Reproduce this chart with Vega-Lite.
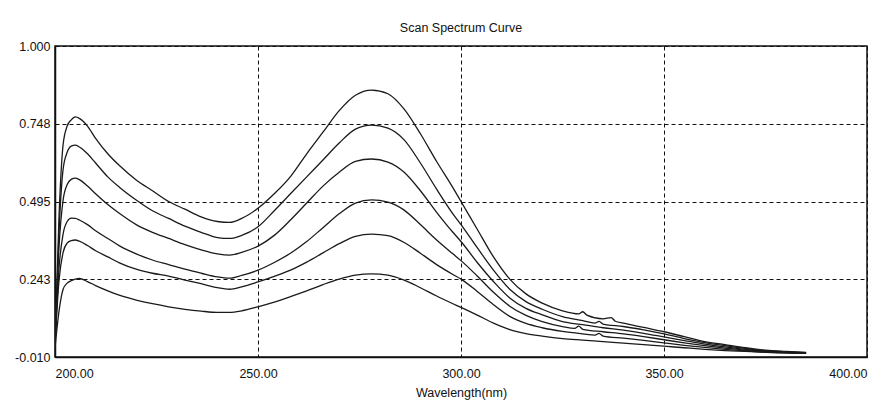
{
  "$schema": "https://vega.github.io/schema/vega-lite/v6.json",
  "autosize": {"type": "none"},
  "width": 812,
  "height": 311,
  "padding": {"left": 55, "top": 46, "right": 21, "bottom": 51},
  "background": "white",
  "title": {"text": "Scan Spectrum Curve", "font": "Liberation Sans, sans-serif", "fontSize": 12.5, "fontWeight": "normal", "color": "#111", "offset": 6},
  "config": {
    "view": {"stroke": "#111", "strokeWidth": 1.5},
    "axis": {"labelFont": "Liberation Sans, sans-serif", "labelFontSize": 12.5, "labelColor": "#111", "titleFont": "Liberation Sans, sans-serif", "titleFontSize": 12.5, "titleFontWeight": "normal", "titleColor": "#111", "grid": true, "gridColor": "#111", "gridDash": [4, 3], "gridWidth": 1, "gridOpacity": 1, "tickSize": 0, "domainColor": "#111", "domainWidth": 1.5}
  },
  "data": {"values": [
{"s":1,"w":200,"a":0.03},{"s":1,"w":201,"a":0.45},{"s":1,"w":202,"a":0.68},{"s":1,"w":203,"a":0.74},{"s":1,"w":204,"a":0.76},{"s":1,"w":205,"a":0.77},{"s":1,"w":206,"a":0.765},{"s":1,"w":208,"a":0.74},{"s":1,"w":210,"a":0.70},{"s":1,"w":213,"a":0.65},{"s":1,"w":216,"a":0.61},{"s":1,"w":220,"a":0.565},{"s":1,"w":224,"a":0.53},{"s":1,"w":228,"a":0.495},{"s":1,"w":232,"a":0.47},{"s":1,"w":236,"a":0.445},{"s":1,"w":240,"a":0.43},{"s":1,"w":243,"a":0.427},{"s":1,"w":246,"a":0.44},{"s":1,"w":250,"a":0.473},{"s":1,"w":254,"a":0.52},{"s":1,"w":258,"a":0.576},{"s":1,"w":262,"a":0.65},{"s":1,"w":266,"a":0.72},{"s":1,"w":270,"a":0.79},{"s":1,"w":274,"a":0.84},{"s":1,"w":278,"a":0.857},{"s":1,"w":282,"a":0.845},{"s":1,"w":286,"a":0.795},{"s":1,"w":290,"a":0.715},{"s":1,"w":294,"a":0.625},{"s":1,"w":298,"a":0.54},{"s":1,"w":300,"a":0.495},{"s":1,"w":304,"a":0.405},{"s":1,"w":308,"a":0.315},{"s":1,"w":312,"a":0.243},{"s":1,"w":316,"a":0.195},{"s":1,"w":320,"a":0.165},{"s":1,"w":325,"a":0.14},{"s":1,"w":329,"a":0.13},{"s":1,"w":330,"a":0.137},{"s":1,"w":331,"a":0.126},{"s":1,"w":335,"a":0.114},{"s":1,"w":337,"a":0.118},{"s":1,"w":338,"a":0.106},{"s":1,"w":340,"a":0.1},{"s":1,"w":345,"a":0.086},{"s":1,"w":350,"a":0.072},{"s":1,"w":355,"a":0.056},{"s":1,"w":360,"a":0.04},{"s":1,"w":365,"a":0.03},{"s":1,"w":370,"a":0.02},{"s":1,"w":375,"a":0.012},{"s":1,"w":380,"a":0.008},{"s":1,"w":385,"a":0.005},
{"s":2,"w":200,"a":0.03},{"s":2,"w":201,"a":0.40},{"s":2,"w":202,"a":0.60},{"s":2,"w":203,"a":0.655},{"s":2,"w":204,"a":0.675},{"s":2,"w":205,"a":0.678},{"s":2,"w":206,"a":0.672},{"s":2,"w":208,"a":0.65},{"s":2,"w":210,"a":0.62},{"s":2,"w":213,"a":0.575},{"s":2,"w":216,"a":0.54},{"s":2,"w":220,"a":0.50},{"s":2,"w":224,"a":0.465},{"s":2,"w":228,"a":0.44},{"s":2,"w":232,"a":0.415},{"s":2,"w":236,"a":0.395},{"s":2,"w":240,"a":0.378},{"s":2,"w":243,"a":0.375},{"s":2,"w":246,"a":0.385},{"s":2,"w":250,"a":0.413},{"s":2,"w":254,"a":0.465},{"s":2,"w":258,"a":0.52},{"s":2,"w":262,"a":0.575},{"s":2,"w":266,"a":0.63},{"s":2,"w":270,"a":0.685},{"s":2,"w":274,"a":0.73},{"s":2,"w":278,"a":0.743},{"s":2,"w":282,"a":0.733},{"s":2,"w":286,"a":0.695},{"s":2,"w":290,"a":0.62},{"s":2,"w":294,"a":0.535},{"s":2,"w":298,"a":0.455},{"s":2,"w":300,"a":0.42},{"s":2,"w":304,"a":0.345},{"s":2,"w":308,"a":0.272},{"s":2,"w":312,"a":0.21},{"s":2,"w":316,"a":0.17},{"s":2,"w":320,"a":0.145},{"s":2,"w":325,"a":0.121},{"s":2,"w":330,"a":0.108},{"s":2,"w":333,"a":0.1},{"s":2,"w":334,"a":0.106},{"s":2,"w":335,"a":0.097},{"s":2,"w":340,"a":0.089},{"s":2,"w":345,"a":0.078},{"s":2,"w":350,"a":0.065},{"s":2,"w":355,"a":0.05},{"s":2,"w":360,"a":0.037},{"s":2,"w":365,"a":0.027},{"s":2,"w":370,"a":0.018},{"s":2,"w":375,"a":0.011},{"s":2,"w":380,"a":0.007},{"s":2,"w":385,"a":0.004},
{"s":3,"w":200,"a":0.03},{"s":3,"w":201,"a":0.35},{"s":3,"w":202,"a":0.50},{"s":3,"w":203,"a":0.55},{"s":3,"w":204,"a":0.567},{"s":3,"w":205,"a":0.571},{"s":3,"w":206,"a":0.566},{"s":3,"w":208,"a":0.545},{"s":3,"w":210,"a":0.52},{"s":3,"w":213,"a":0.485},{"s":3,"w":216,"a":0.455},{"s":3,"w":220,"a":0.42},{"s":3,"w":224,"a":0.395},{"s":3,"w":228,"a":0.375},{"s":3,"w":232,"a":0.355},{"s":3,"w":236,"a":0.338},{"s":3,"w":240,"a":0.325},{"s":3,"w":243,"a":0.321},{"s":3,"w":246,"a":0.33},{"s":3,"w":250,"a":0.35},{"s":3,"w":254,"a":0.385},{"s":3,"w":258,"a":0.435},{"s":3,"w":262,"a":0.49},{"s":3,"w":266,"a":0.545},{"s":3,"w":270,"a":0.59},{"s":3,"w":274,"a":0.625},{"s":3,"w":278,"a":0.633},{"s":3,"w":282,"a":0.623},{"s":3,"w":286,"a":0.59},{"s":3,"w":290,"a":0.53},{"s":3,"w":294,"a":0.46},{"s":3,"w":298,"a":0.395},{"s":3,"w":300,"a":0.365},{"s":3,"w":304,"a":0.297},{"s":3,"w":308,"a":0.235},{"s":3,"w":312,"a":0.182},{"s":3,"w":316,"a":0.148},{"s":3,"w":320,"a":0.127},{"s":3,"w":325,"a":0.105},{"s":3,"w":330,"a":0.095},{"s":3,"w":335,"a":0.085},{"s":3,"w":340,"a":0.077},{"s":3,"w":345,"a":0.067},{"s":3,"w":350,"a":0.055},{"s":3,"w":355,"a":0.043},{"s":3,"w":360,"a":0.032},{"s":3,"w":365,"a":0.023},{"s":3,"w":370,"a":0.015},{"s":3,"w":375,"a":0.009},{"s":3,"w":380,"a":0.006},{"s":3,"w":385,"a":0.003},
{"s":4,"w":200,"a":0.03},{"s":4,"w":201,"a":0.28},{"s":4,"w":202,"a":0.39},{"s":4,"w":203,"a":0.43},{"s":4,"w":204,"a":0.441},{"s":4,"w":205,"a":0.44},{"s":4,"w":206,"a":0.435},{"s":4,"w":208,"a":0.42},{"s":4,"w":210,"a":0.40},{"s":4,"w":213,"a":0.375},{"s":4,"w":216,"a":0.35},{"s":4,"w":220,"a":0.325},{"s":4,"w":224,"a":0.305},{"s":4,"w":228,"a":0.29},{"s":4,"w":232,"a":0.275},{"s":4,"w":236,"a":0.262},{"s":4,"w":240,"a":0.25},{"s":4,"w":243,"a":0.246},{"s":4,"w":246,"a":0.255},{"s":4,"w":250,"a":0.272},{"s":4,"w":254,"a":0.297},{"s":4,"w":258,"a":0.327},{"s":4,"w":262,"a":0.365},{"s":4,"w":266,"a":0.41},{"s":4,"w":270,"a":0.455},{"s":4,"w":274,"a":0.49},{"s":4,"w":278,"a":0.50},{"s":4,"w":282,"a":0.493},{"s":4,"w":286,"a":0.467},{"s":4,"w":290,"a":0.42},{"s":4,"w":294,"a":0.37},{"s":4,"w":298,"a":0.325},{"s":4,"w":300,"a":0.303},{"s":4,"w":304,"a":0.253},{"s":4,"w":308,"a":0.20},{"s":4,"w":312,"a":0.155},{"s":4,"w":316,"a":0.125},{"s":4,"w":320,"a":0.105},{"s":4,"w":325,"a":0.089},{"s":4,"w":328,"a":0.083},{"s":4,"w":329,"a":0.09},{"s":4,"w":330,"a":0.08},{"s":4,"w":335,"a":0.072},{"s":4,"w":340,"a":0.065},{"s":4,"w":345,"a":0.056},{"s":4,"w":350,"a":0.046},{"s":4,"w":355,"a":0.036},{"s":4,"w":360,"a":0.027},{"s":4,"w":365,"a":0.019},{"s":4,"w":370,"a":0.012},{"s":4,"w":375,"a":0.008},{"s":4,"w":380,"a":0.005},{"s":4,"w":385,"a":0.003},
{"s":5,"w":200,"a":0.03},{"s":5,"w":201,"a":0.24},{"s":5,"w":202,"a":0.33},{"s":5,"w":203,"a":0.36},{"s":5,"w":204,"a":0.368},{"s":5,"w":205,"a":0.37},{"s":5,"w":206,"a":0.366},{"s":5,"w":208,"a":0.352},{"s":5,"w":210,"a":0.335},{"s":5,"w":213,"a":0.315},{"s":5,"w":216,"a":0.295},{"s":5,"w":220,"a":0.275},{"s":5,"w":224,"a":0.262},{"s":5,"w":228,"a":0.253},{"s":5,"w":232,"a":0.24},{"s":5,"w":236,"a":0.228},{"s":5,"w":240,"a":0.215},{"s":5,"w":243,"a":0.21},{"s":5,"w":246,"a":0.218},{"s":5,"w":250,"a":0.234},{"s":5,"w":254,"a":0.252},{"s":5,"w":258,"a":0.272},{"s":5,"w":262,"a":0.298},{"s":5,"w":266,"a":0.328},{"s":5,"w":270,"a":0.358},{"s":5,"w":274,"a":0.382},{"s":5,"w":278,"a":0.389},{"s":5,"w":282,"a":0.384},{"s":5,"w":286,"a":0.362},{"s":5,"w":290,"a":0.327},{"s":5,"w":294,"a":0.29},{"s":5,"w":298,"a":0.258},{"s":5,"w":300,"a":0.243},{"s":5,"w":304,"a":0.203},{"s":5,"w":308,"a":0.16},{"s":5,"w":312,"a":0.122},{"s":5,"w":316,"a":0.099},{"s":5,"w":320,"a":0.085},{"s":5,"w":325,"a":0.073},{"s":5,"w":330,"a":0.065},{"s":5,"w":333,"a":0.061},{"s":5,"w":334,"a":0.067},{"s":5,"w":335,"a":0.058},{"s":5,"w":340,"a":0.051},{"s":5,"w":345,"a":0.044},{"s":5,"w":350,"a":0.036},{"s":5,"w":355,"a":0.028},{"s":5,"w":360,"a":0.021},{"s":5,"w":365,"a":0.015},{"s":5,"w":370,"a":0.01},{"s":5,"w":375,"a":0.006},{"s":5,"w":380,"a":0.004},{"s":5,"w":385,"a":0.002},
{"s":6,"w":200,"a":0.02},{"s":6,"w":201,"a":0.14},{"s":6,"w":202,"a":0.21},{"s":6,"w":203,"a":0.23},{"s":6,"w":204,"a":0.238},{"s":6,"w":205,"a":0.243},{"s":6,"w":206,"a":0.245},{"s":6,"w":208,"a":0.235},{"s":6,"w":210,"a":0.222},{"s":6,"w":213,"a":0.205},{"s":6,"w":216,"a":0.19},{"s":6,"w":220,"a":0.175},{"s":6,"w":224,"a":0.163},{"s":6,"w":228,"a":0.153},{"s":6,"w":232,"a":0.145},{"s":6,"w":236,"a":0.139},{"s":6,"w":240,"a":0.135},{"s":6,"w":243,"a":0.135},{"s":6,"w":246,"a":0.14},{"s":6,"w":250,"a":0.153},{"s":6,"w":254,"a":0.168},{"s":6,"w":258,"a":0.186},{"s":6,"w":262,"a":0.205},{"s":6,"w":266,"a":0.225},{"s":6,"w":270,"a":0.243},{"s":6,"w":274,"a":0.256},{"s":6,"w":278,"a":0.26},{"s":6,"w":282,"a":0.256},{"s":6,"w":286,"a":0.24},{"s":6,"w":290,"a":0.215},{"s":6,"w":294,"a":0.188},{"s":6,"w":298,"a":0.163},{"s":6,"w":300,"a":0.151},{"s":6,"w":304,"a":0.126},{"s":6,"w":308,"a":0.1},{"s":6,"w":312,"a":0.079},{"s":6,"w":316,"a":0.066},{"s":6,"w":320,"a":0.058},{"s":6,"w":325,"a":0.05},{"s":6,"w":330,"a":0.045},{"s":6,"w":335,"a":0.04},{"s":6,"w":340,"a":0.035},{"s":6,"w":345,"a":0.03},{"s":6,"w":350,"a":0.025},{"s":6,"w":355,"a":0.02},{"s":6,"w":360,"a":0.015},{"s":6,"w":365,"a":0.011},{"s":6,"w":370,"a":0.008},{"s":6,"w":375,"a":0.005},{"s":6,"w":380,"a":0.003},{"s":6,"w":385,"a":0.002}
  ]},
  "mark": {"type": "line", "color": "#1a1a1a", "strokeWidth": 1.3, "clip": true, "interpolate": "monotone"},
  "encoding": {
    "x": {"field": "w", "type": "quantitative", "scale": {"domain": [200, 400], "nice": false, "zero": false},
      "axis": {"values": [200, 250, 300, 350, 400], "format": ".2f", "title": "Wavelength(nm)", "labelPadding": 10, "titlePadding": 7}},
    "y": {"field": "a", "type": "quantitative", "scale": {"domain": [-0.01, 1.0], "nice": false, "zero": false},
      "axis": {"values": [-0.01, 0.243, 0.495, 0.748, 1.0], "labelExpr": "datum.value < 0 ? '-0.010' : format(datum.value, '.3f')", "title": null, "labelPadding": 5}},
    "detail": {"field": "s", "type": "nominal"},
    "order": {"field": "w", "type": "quantitative"}
  }
}
